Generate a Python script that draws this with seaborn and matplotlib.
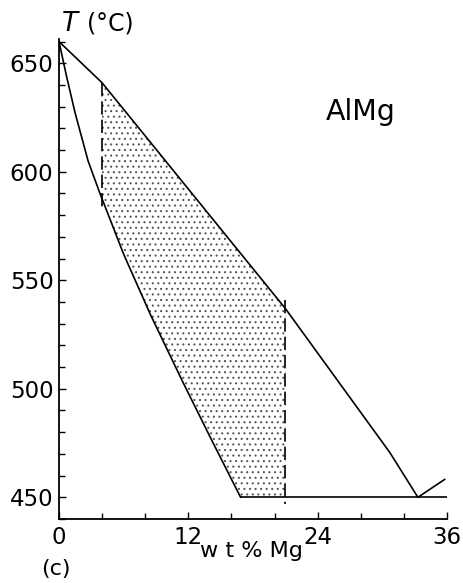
import matplotlib
matplotlib.use("Agg")
import matplotlib.pyplot as plt
import seaborn as sns
import numpy as np
import pandas as pd

# ---- data ----
liq_x = [0, 4, 21, 30.7, 33.3]
liq_T = [660, 641, 537, 470.6, 450]
sol_x = [0, 0.7, 1.5, 2.7, 3.8, 4.0, 6.0, 8.5, 11.5, 14.2, 16.85]
sol_T = [660, 644, 627, 605, 590, 587.5, 562, 534, 503, 476, 450]
eut_x = [16.85, 36]
eut_T = [450, 450]
beta_x = [33.3, 35.8]
beta_T = [450, 458.3]
dash1_x = [4, 4]
dash1_T = [641, 583]
dash2_x = [21, 21]
dash2_T = [541, 447]
xticks = [0, 12, 24, 36]
yticks = [450, 500, 550, 600, 650]

sns.set_style("ticks")
plt.rcParams['font.family'] = ['DejaVu Sans']
plt.rcParams['text.color'] = 'black'
plt.rcParams['xtick.color'] = 'black'
plt.rcParams['ytick.color'] = 'black'
plt.rcParams['axes.labelcolor'] = 'black'
plt.rcParams['hatch.linewidth'] = 0.75

fig = plt.figure(figsize=(4.63, 5.83), dpi=100)
ax = fig.add_axes([59/463, 1-519/583, (447-59)/463, (519-39.4)/583])

lw = 1.2
for xs, ys in [(liq_x, liq_T), (sol_x, sol_T), (eut_x, eut_T), (beta_x, beta_T)]:
    sns.lineplot(x=xs, y=ys, sort=False, estimator=None, color='black',
                 linewidth=lw, ax=ax)
for xs, ys in [(dash1_x, dash1_T), (dash2_x, dash2_T)]:
    sns.lineplot(x=xs, y=ys, sort=False, estimator=None, color='black',
                 linewidth=lw, ax=ax)
    ax.lines[-1].set_dashes((8, 3))

# stippled two-phase region between x=4 and x=21
top_x = [x for x in liq_x if 4 <= x <= 21]
top_T = [t for x, t in zip(liq_x, liq_T) if 4 <= x <= 21]
bot = [(x, t) for x, t in zip(sol_x, sol_T) if 4 <= x <= 21][::-1]
reg_x = top_x + [21, eut_x[0]] + [b[0] for b in bot]
reg_T = top_T + [450, 450] + [b[1] for b in bot]
ax.fill(reg_x, reg_T, facecolor='none', edgecolor='#555555', hatch='...',
        linewidth=0, zorder=0.5)

ax.set_xlim(0, 36)
ax.set_ylim(440, 661)
ax.set_xticks(xticks)
ax.set_xticks(np.arange(0, 37, 4), minor=True)
ax.set_yticks(yticks)
ax.set_yticks(np.arange(440, 661, 10), minor=True)
ax.tick_params(which='both', direction='in', width=1.0, color='black',
               labelsize=16.5, labelcolor='black')
ax.tick_params(which='major', length=5)
ax.tick_params(which='minor', length=4)
ax.tick_params(axis='x', pad=5)
ax.tick_params(axis='y', pad=4)
for s in ['top', 'right']:
    ax.spines[s].set_visible(False)
for s in ['left', 'bottom']:
    ax.spines[s].set_linewidth(1.3)
    ax.spines[s].set_color('black')
ax.set_xlabel('')
ax.set_ylabel('')

fig.text(251/463, 1-557/583, 'w t % Mg', ha='center', va='baseline', fontsize=16)
fig.text(56/463, 1-575/583, '(c)', ha='center', va='baseline', fontsize=16)
fig.text(62/463, 1-31/583, 'T', ha='left', va='baseline', fontsize=19, style='italic')
fig.text(87/463, 1-30/583, '(°C)', ha='left', va='baseline', fontsize=17)
fig.text(326/463, 1-120/583, 'AlMg', ha='left', va='baseline', fontsize=20.5)

fig.savefig('out.png', dpi=100)
